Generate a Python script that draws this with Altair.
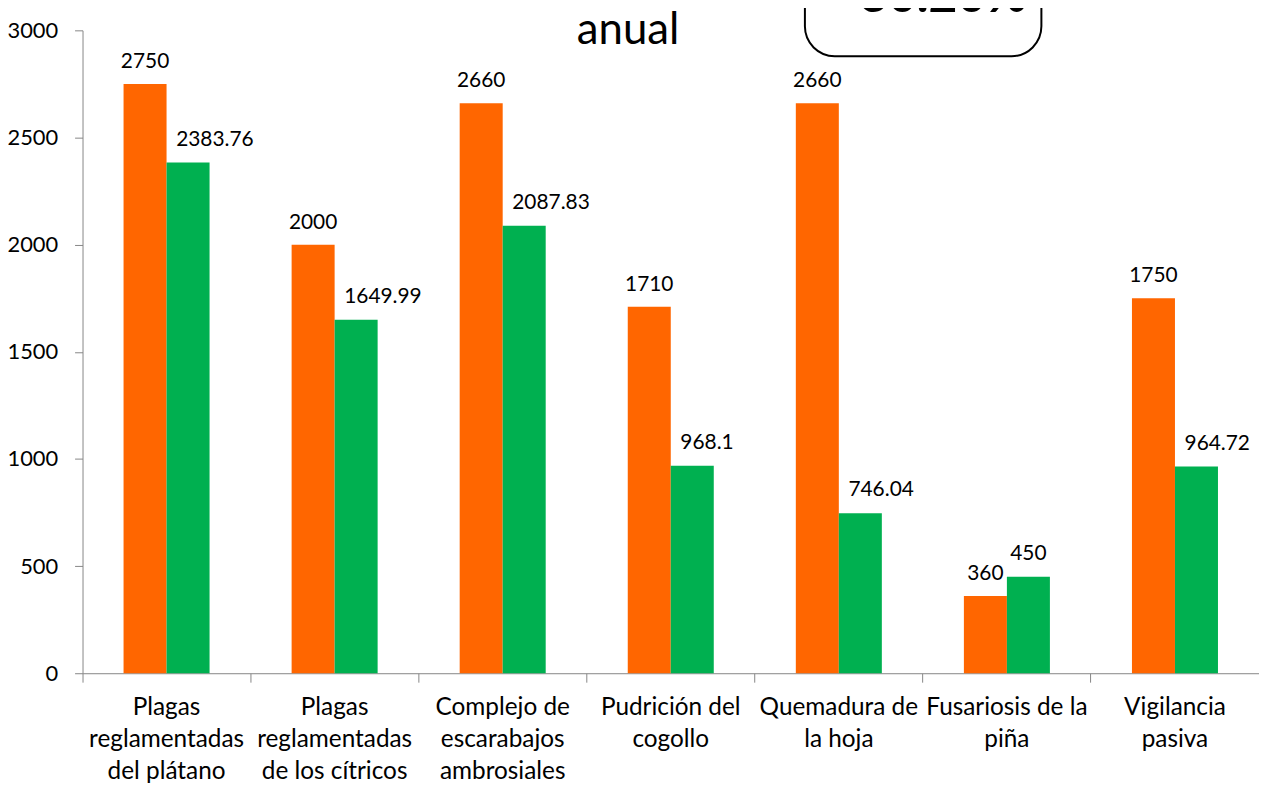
import altair as alt
import pandas as pd

categorias = [
    "Plagas\nreglamentadas\ndel plátano",
    "Plagas\nreglamentadas\nde los cítricos",
    "Complejo de\nescarabajos\nambrosiales",
    "Pudrición del\ncogollo",
    "Quemadura de\nla hoja",
    "Fusariosis de la\npiña",
    "Vigilancia\npasiva",
]
series = ["Meta", "Logro"]
meta = [2750, 2000, 2660, 1710, 2660, 360, 1750]
logro = [2383.76, 1649.99, 2087.83, 968.1, 746.04, 450, 964.72]
etq_meta = ["2750", "2000", "2660", "1710", "2660", "360", "1750"]
etq_logro = ["2383.76", "1649.99", "2087.83", "968.1", "746.04", "450", "964.72"]
y_ticks = [0, 500, 1000, 1500, 2000, 2500, 3000]
titulo = "anual"
porcentaje = "30.20%"

rows = []
for c, m, l, em, el in zip(categorias, meta, logro, etq_meta, etq_logro):
    rows.append({"cat": c, "serie": "Meta", "valor": m, "etq": em})
    rows.append({"cat": c, "serie": "Logro", "valor": l, "etq": el})
df = pd.DataFrame(rows)

W, H = 1184, 647
FONT = "Lato"
GRAY = "#868686"

base = alt.Chart(df).encode(
    x=alt.X(
        "cat:N",
        sort=categorias,
        scale=alt.Scale(paddingInner=0, paddingOuter=0),
        axis=alt.Axis(
            title=None, labelAngle=0, bandPosition=0,
            labelExpr="split(datum.label, '\\n')", labelFont=FONT,
            labelFontSize=24.5, labelLineHeight=32, labelColor="black",
            domainColor=GRAY, tickColor=GRAY, tickSize=9, labelPadding=14,
            labelLimit=0, labelBaseline="top",
        ),
    ),
    xOffset=alt.XOffset(
        "serie:N", sort=series,
        scale=alt.Scale(domain=series, paddingInner=0, paddingOuter=0.954),
    ),
    y=alt.Y(
        "valor:Q",
        scale=alt.Scale(domain=[0, 3000], nice=False),
        axis=alt.Axis(
            title=None, values=y_ticks, grid=False, format="d", labelFont=FONT,
            labelFontSize=22, labelColor="black", domainColor=GRAY,
            tickColor=GRAY, tickSize=8, labelPadding=17,
        ),
    ),
)

bars = base.mark_bar().encode(
    color=alt.Color("serie:N", scale=alt.Scale(domain=series, range=["#FF6600", "#00B050"]), legend=None)
)

t_meta = base.transform_filter(alt.datum.serie == "Meta").mark_text(
    dy=-16, baseline="alphabetic", font=FONT, fontSize=21, color="black"
).encode(text="etq:N")

t_logro = base.transform_filter(
    (alt.datum.serie == "Logro") & (alt.datum.cat != categorias[5])
).mark_text(
    dy=-17, dx=-12, align="left", baseline="alphabetic", font=FONT, fontSize=21, color="black"
).encode(text="etq:N")

t_logro_c = base.transform_filter(
    (alt.datum.serie == "Logro") & (alt.datum.cat == categorias[5])
).mark_text(
    dy=-17, baseline="alphabetic", font=FONT, fontSize=21, color="black"
).encode(text="etq:N")

ann = alt.Chart(pd.DataFrame({"t": [porcentaje], "titulo": [titulo]}))

box = ann.mark_rect(fill="white", stroke="black", strokeWidth=2, cornerRadius=30).encode(
    x=alt.value(727), x2=alt.value(965), y=alt.value(-90), y2=alt.value(26)
)
pct = ann.mark_text(font=FONT, fontSize=50, fontWeight="bold", baseline="alphabetic", color="black").encode(
    x=alt.value(866), y=alt.value(-18), text="t:N"
)
tit = ann.mark_text(font=FONT, fontSize=44, baseline="alphabetic", color="black").encode(
    x=alt.value(549), y=alt.value(14), text="titulo:N"
)

chart = alt.layer(bars, t_meta, t_logro, t_logro_c, box, pct, tit).properties(
    width=W, height=H,
    autosize=alt.AutoSizeParams(type="none"),
    padding={"left": 75, "top": 20, "right": 0, "bottom": 110},
).configure_view(stroke=None)

chart.save("out.html", embed_options={"renderer": "svg", "actions": False})
